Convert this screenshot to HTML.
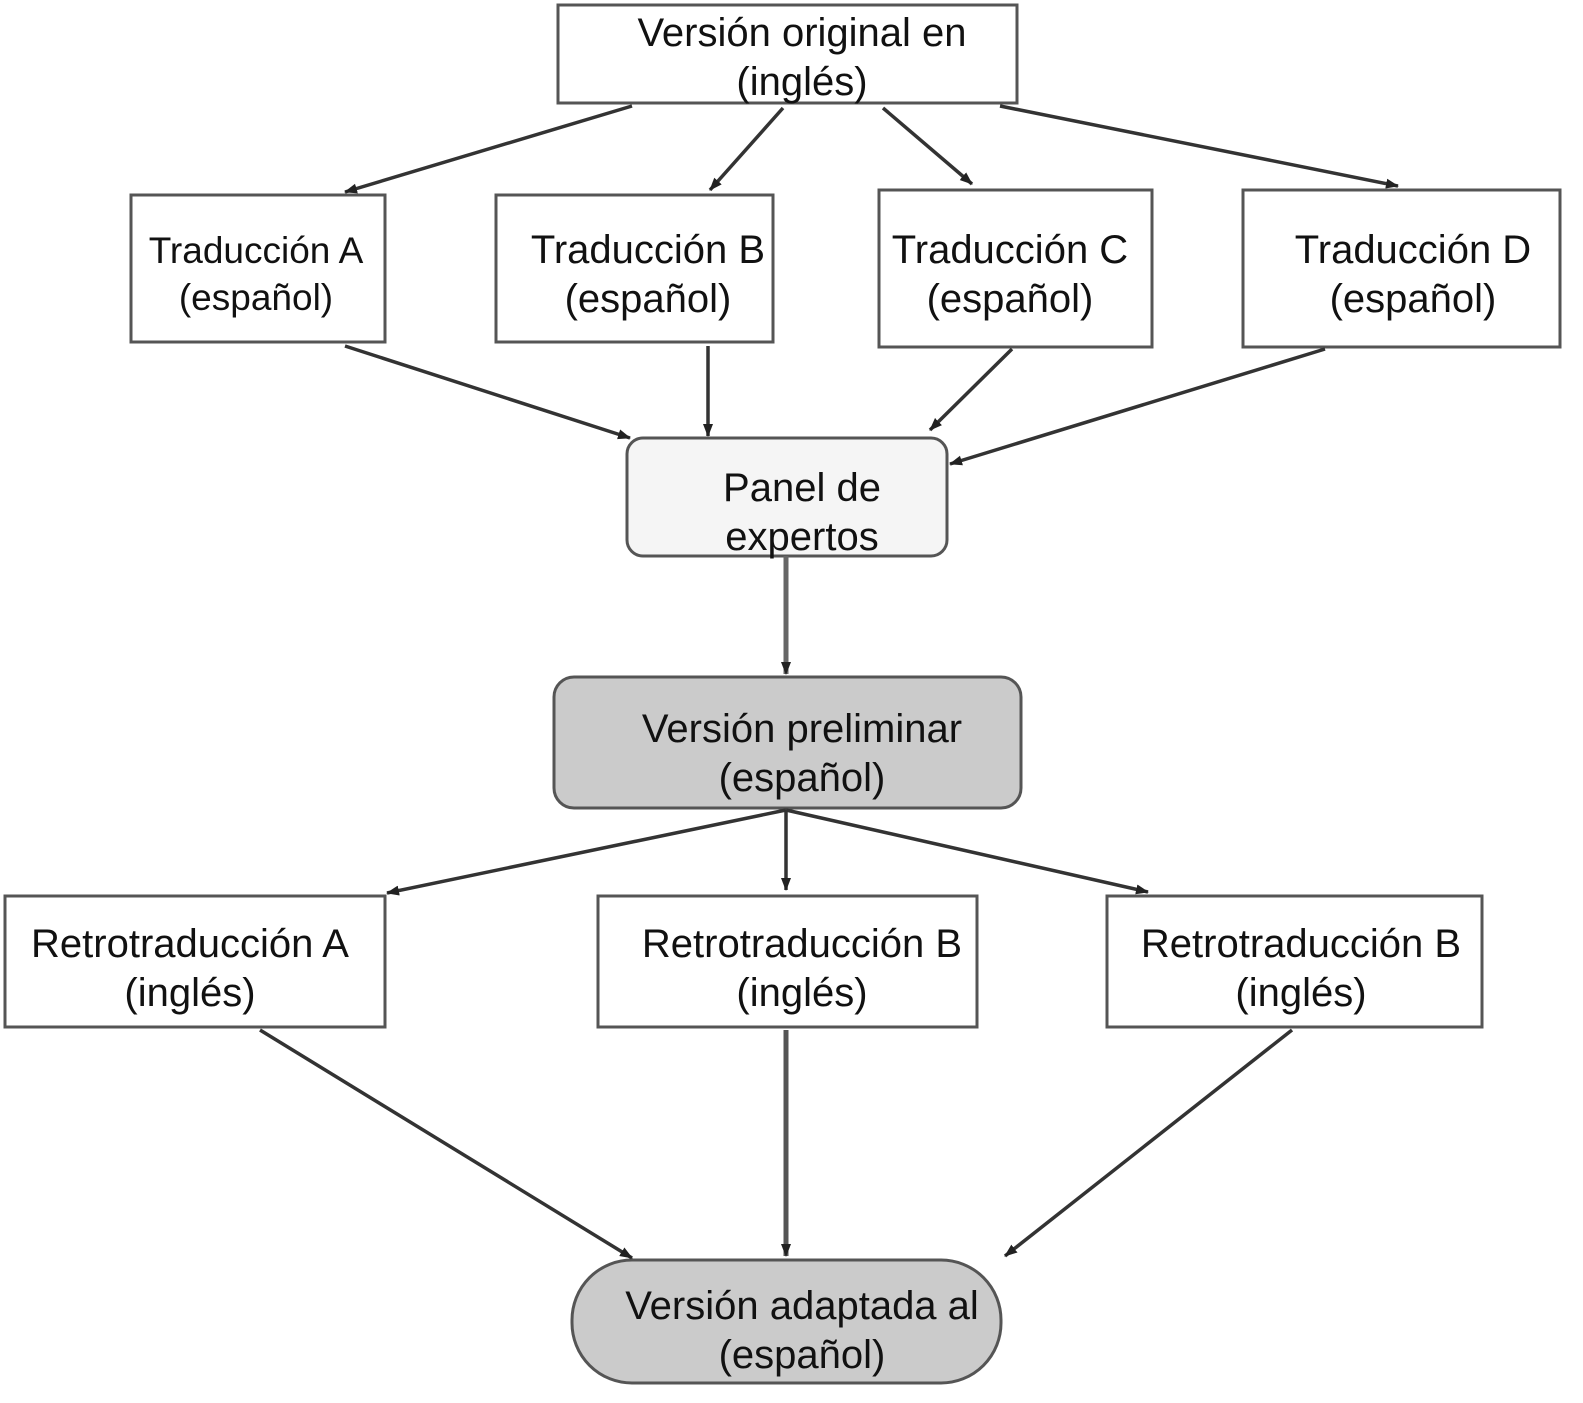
<!DOCTYPE html>
<html><head><meta charset="utf-8"><style>
html,body{margin:0;padding:0;background:#fff}
svg text{font-family:"Liberation Sans",Arial,sans-serif;fill:#111;text-anchor:middle}
</style></head><body>
<svg width="1583" height="1398" viewBox="0 0 1583 1398" xmlns="http://www.w3.org/2000/svg">
<defs>
<marker id="b" markerWidth="14" markerHeight="12" refX="12" refY="6" orient="auto" markerUnits="userSpaceOnUse"><path d="M0,1 L13,6 L0,11 z" fill="#222"/></marker></defs>
<g fill="#fff" stroke="#555" stroke-width="3">
<rect x="558" y="5" width="459" height="98"/>
<rect x="131" y="195" width="254" height="147"/>
<rect x="496" y="195" width="277" height="147"/>
<rect x="879" y="190" width="273" height="157"/>
<rect x="1243" y="190" width="317" height="157"/>
<rect x="627" y="438" width="320" height="118" rx="16" fill="#f5f5f5"/>
<rect x="554" y="677" width="467" height="131" rx="20" fill="#cbcbcb"/>
<rect x="5" y="896" width="380" height="131"/>
<rect x="598" y="896" width="379" height="131"/>
<rect x="1107" y="896" width="375" height="131"/>
<rect x="572" y="1260" width="429" height="123" rx="60" fill="#cbcbcb"/>
</g>
<g stroke="#333" stroke-width="3.5" marker-end="url(#b)">
<line x1="632" y1="106" x2="345" y2="192"/>
<line x1="783" y1="108" x2="710" y2="190"/>
<line x1="883" y1="108" x2="972" y2="184"/>
<line x1="1000" y1="106" x2="1398" y2="186"/>
<line x1="345" y1="346" x2="630" y2="438"/>
<line x1="708" y1="346" x2="708" y2="436"/>
<line x1="1012" y1="349" x2="930" y2="430"/>
<line x1="1325" y1="349" x2="950" y2="464"/>
<line x1="786" y1="556" x2="786" y2="674" stroke="#666" stroke-width="5"/>
<line x1="786" y1="810" x2="387" y2="893"/>
<line x1="786" y1="810" x2="786" y2="890"/>
<line x1="786" y1="810" x2="1148" y2="892"/>
<line x1="260" y1="1030" x2="632" y2="1258"/>
<line x1="786" y1="1030" x2="786" y2="1256" stroke="#555" stroke-width="5"/>
<line x1="1292" y1="1030" x2="1005" y2="1256"/>
</g>
<g font-size="40">
<text x="802" y="46">Versión original en</text>
<text x="802" y="95">(inglés)</text>
<text x="256" y="263" font-size="37">Traducción A</text>
<text x="256" y="310" font-size="37">(español)</text>
<text x="648" y="263">Traducción B</text>
<text x="648" y="312">(español)</text>
<text x="1010" y="263">Traducción C</text>
<text x="1010" y="312">(español)</text>
<text x="1413" y="263">Traducción D</text>
<text x="1413" y="312">(español)</text>
<text x="802" y="501">Panel de</text>
<text x="802" y="550">expertos</text>
<text x="802" y="742">Versión preliminar</text>
<text x="802" y="791">(español)</text>
<text x="190" y="957">Retrotraducción A</text>
<text x="190" y="1006">(inglés)</text>
<text x="802" y="957">Retrotraducción B</text>
<text x="802" y="1006">(inglés)</text>
<text x="1301" y="957">Retrotraducción B</text>
<text x="1301" y="1006">(inglés)</text>
<text x="802" y="1319">Versión adaptada al</text>
<text x="802" y="1368">(español)</text>
</g>
</svg>
</body></html>
